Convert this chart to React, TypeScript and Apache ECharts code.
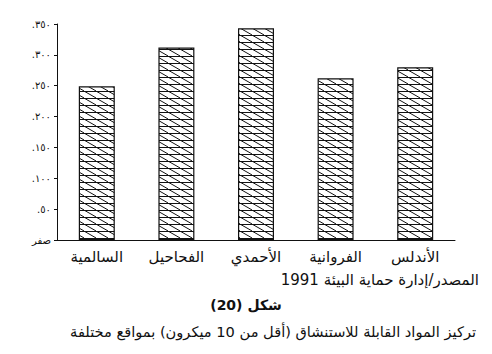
import React, { useEffect, useRef } from "react";
import * as echarts from "echarts";

const categories = ["السالمية", "الفحاحيل", "الأحمدي", "الفروانية", "الأندلس"];
const values = [0.249, 0.312, 0.343, 0.262, 0.28];
const yTickLabels = ["صفر", ".٥٠", ".١٠٠", ".١٥٠", ".٢٠٠", ".٢٥٠", ".٣٠٠", ".٣٥٠"];
const sourceText = "المصدر/إدارة حماية البيئة 1991";
const figureText = "شكل (20)";
const titleText = "تركيز المواد القابلة للاستنشاق (أقل من 10 ميكرون) بمواقع مختلفة";

const FONT = "DejaVu Sans";

function makeHatch(): HTMLCanvasElement {
  const w = 12;
  const h = 7;
  const c = document.createElement("canvas");
  c.width = w;
  c.height = h;
  const ctx = c.getContext("2d")!;
  ctx.fillStyle = "#ffffff";
  ctx.fillRect(0, 0, w, h);
  ctx.strokeStyle = "#111111";
  ctx.lineWidth = 1;
  ctx.beginPath();
  ctx.moveTo(0, 0.5);
  ctx.lineTo(w, 0.5);
  ctx.stroke();
  ctx.beginPath();
  ctx.moveTo(-1, -0.5);
  ctx.lineTo(w + 1, h + 0.5);
  ctx.stroke();
  return c;
}

export default function App() {
  const ref = useRef<HTMLDivElement>(null);
  useEffect(() => {
    if (!ref.current) return;
    const chart = echarts.init(ref.current, null, { renderer: "svg" });
    const hatch = makeHatch();
    chart.setOption({
      animation: false,
      backgroundColor: "#ffffff",
      grid: { left: 57, right: 37, top: 24, bottom: 114, containLabel: false },
      xAxis: {
        type: "category",
        data: categories,
        axisLine: { lineStyle: { color: "#111", width: 1 } },
        axisTick: { show: false },
        axisLabel: {
          color: "#111",
          fontFamily: FONT,
          fontSize: 15,
          margin: 9,
          interval: 0,
        },
      },
      yAxis: {
        type: "value",
        min: 0,
        max: 0.35,
        interval: 0.05,
        splitLine: { show: false },
        axisLine: { show: true, lineStyle: { color: "#111", width: 1 } },
        axisTick: { show: true, length: 3, lineStyle: { color: "#111" } },
        axisLabel: {
          color: "#111",
          fontFamily: FONT,
          fontSize: 10,
          margin: 6,
          formatter: (v: number) => yTickLabels[Math.round(v / 0.05)] ?? "",
        },
      },
      series: [
        {
          type: "bar",
          data: values,
          barWidth: 36,
          itemStyle: {
            color: { image: hatch, repeat: "repeat", imageWidth: 12, imageHeight: 7 },
            borderColor: "#111",
            borderWidth: 1.2,
          },
        },
      ],
      graphic: [
        {
          type: "text",
          right: 13,
          top: 272,
          style: { text: sourceText, fill: "#111", font: `15px "${FONT}"` },
        },
        {
          type: "text",
          left: "center",
          top: 298,
          style: { text: figureText, fill: "#111", font: `bold 14px "${FONT}"` },
        },
        {
          type: "text",
          right: 16,
          top: 324,
          style: { text: titleText, fill: "#111", font: `14.6px "${FONT}"` },
        },
      ],
    });
    return () => chart.dispose();
  }, []);
  return <div ref={ref} style={{ width: 492, height: 354, position: "absolute", left: 0, top: 0 }} />;
}
